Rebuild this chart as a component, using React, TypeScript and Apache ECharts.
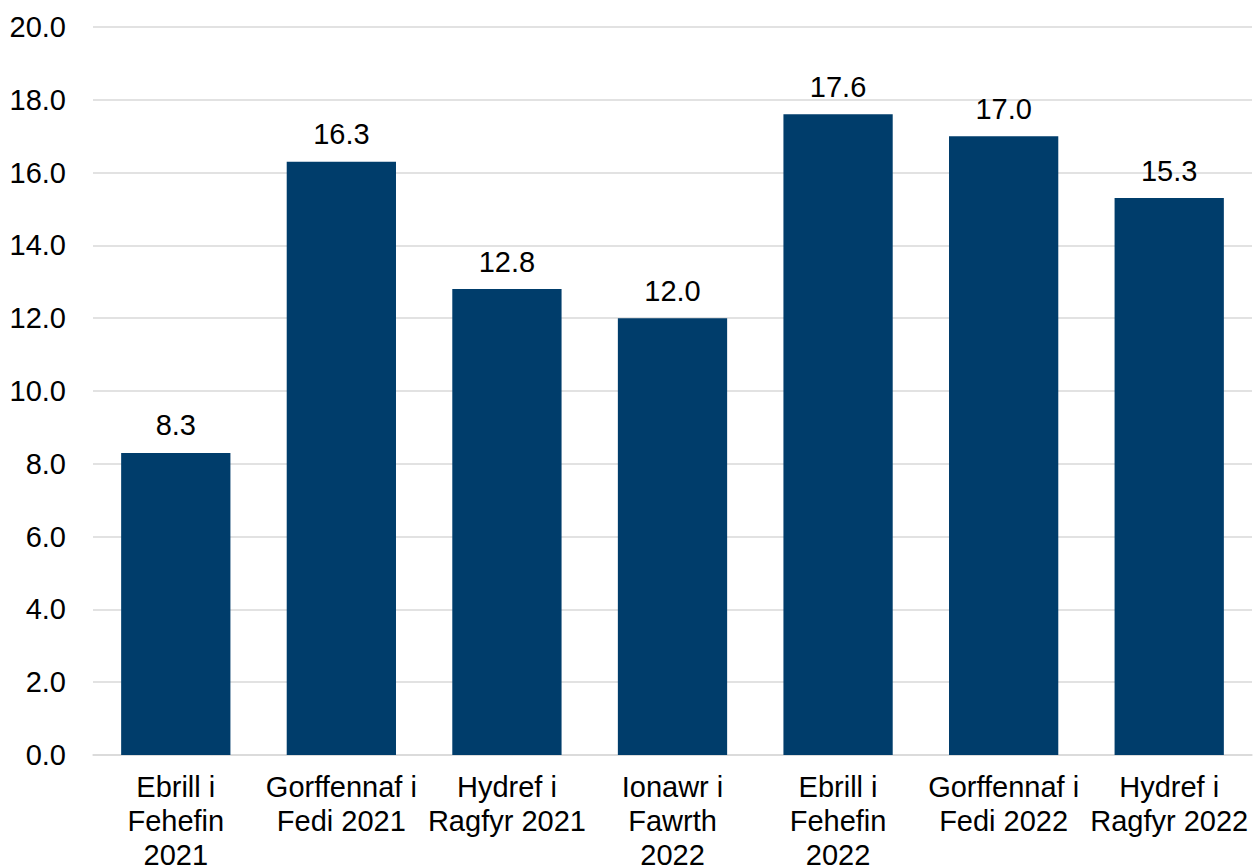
import React, { useEffect, useRef } from "react";
import * as echarts from "echarts";

const categories = [
  "Ebrill i\nFehefin\n2021",
  "Gorffennaf i\nFedi 2021",
  "Hydref i\nRagfyr 2021",
  "Ionawr i\nFawrth\n2022",
  "Ebrill i\nFehefin\n2022",
  "Gorffennaf i\nFedi 2022",
  "Hydref i\nRagfyr 2022",
];
const values = [8.3, 16.3, 12.8, 12.0, 17.6, 17.0, 15.3];

export default function App() {
  const ref = useRef<HTMLDivElement>(null);
  useEffect(() => {
    if (!ref.current) return;
    const chart = echarts.init(ref.current, null, { renderer: "svg" });
    const font = "Liberation Sans, Arial, sans-serif";
    chart.setOption({
      animation: false,
      grid: {
        left: 93,
        right: 6,
        top: 27,
        bottom: 113,
        containLabel: false,
        outerBoundsMode: "none",
      },
      xAxis: {
        type: "category",
        data: categories,
        axisLine: { show: true, lineStyle: { color: "#d9d9d9", width: 1.5 } },
        axisTick: { show: false },
        axisLabel: {
          interval: 0,
          color: "#000",
          fontSize: 29,
          fontFamily: font,
          lineHeight: 34,
          margin: 15,
        },
      },
      yAxis: {
        type: "value",
        min: 0,
        max: 20,
        interval: 2,
        axisLine: { show: false },
        axisTick: { show: false },
        splitLine: { lineStyle: { color: "#d9d9d9", width: 1.5 } },
        axisLabel: {
          color: "#000",
          fontSize: 29,
          fontFamily: font,
          margin: 27,
          formatter: (v: number) => v.toFixed(1),
        },
      },
      series: [
        {
          type: "bar",
          data: values,
          barWidth: "66%",
          itemStyle: { color: "#003d6b" },
          label: {
            show: true,
            position: "top",
            distance: 13,
            color: "#000",
            fontSize: 29,
            fontFamily: font,
            formatter: (p: any) => Number(p.value).toFixed(1),
          },
        },
      ],
    });
    return () => chart.dispose();
  }, []);
  return (
    <div
      ref={ref}
      style={{ position: "absolute", left: 0, top: 0, width: 1258, height: 868 }}
    />
  );
}
